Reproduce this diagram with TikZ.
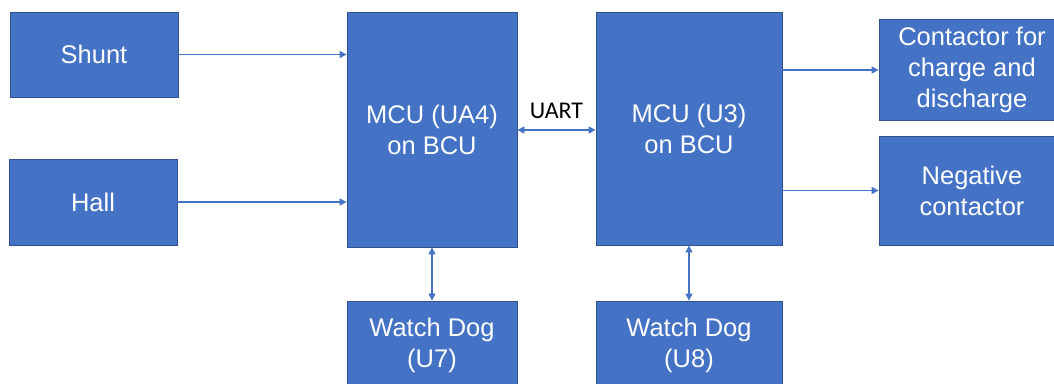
\documentclass[tikz,border=0pt]{standalone}
\usepackage{fontspec}
\setmainfont{Liberation Sans}
\newfontfamily\labelfont{Carlito}
\usetikzlibrary{arrows.meta}
\definecolor{boxblue}{HTML}{4472C4}
\definecolor{boxedge}{HTML}{2F528F}
\begin{document}
\begin{tikzpicture}[x=1pt,y=-1pt,
  block/.style={rectangle, fill=boxblue, draw=boxedge, line width=0.8pt,
    inner sep=0pt, text=white, align=center,
    font=\fontsize{25.5}{31}\selectfont},
  link/.style={draw=boxblue, line width=1.1pt,
    -{Triangle[length=7pt,width=7pt]}},
  duplex/.style={draw=boxblue, line width=1.1pt,
    {Triangle[length=7pt,width=7pt]}-{Triangle[length=7pt,width=7pt]}}]
  \useasboundingbox (0,0) rectangle (1054,383);

  % input sensors
  \node[block, minimum width=168pt, minimum height=85pt] (shunt) at (94,54.5) {Shunt};
  \node[block, minimum width=168pt, minimum height=86pt] (hall) at (93,202) {Hall};

  % the two controllers
  \node[block, minimum width=170pt, minimum height=235pt] (ua4) at (432,129.5) {MCU (UA4)\\on BCU};
  \node[block, minimum width=186pt, minimum height=233pt] (u3) at (689,128.5) {MCU (U3)\\on BCU};

  % contactors driven by U3
  \node[block, minimum width=186pt, minimum height=101pt] (chg) at (972,69.5) {Contactor for\\charge and\\discharge};
  \node[block, minimum width=186pt, minimum height=109pt] (neg) at (972,190.5) {Negative\\contactor};

  % watchdogs
  \node[block, minimum width=170pt, minimum height=89pt] (wd7) at (432,345.5) {Watch Dog\\(U7)};
  \node[block, minimum width=186pt, minimum height=89pt] (wd8) at (689,345.5) {Watch Dog\\(U8)};

  % connections
  \draw[link] (shunt.east) -- (shunt.east -| ua4.west);
  \draw[link] (hall.east) -- (hall.east -| ua4.west);
  \draw[duplex] ([yshift=-0.5pt]ua4.east) -- ([yshift=-1.5pt]u3.west)
    node[midway, above=7pt, text=black, font=\labelfont\fontsize{24}{28}\selectfont] (uart) {UART};
  \draw[link] ([yshift=-0.5pt]u3.east |- chg.west) -- ([yshift=-0.5pt]chg.west);
  \draw[link] (u3.east |- neg.west) -- (neg.west);
  \draw[duplex] (ua4.south) -- (wd7.north);
  \draw[duplex] (u3.south) -- (wd8.north);
\end{tikzpicture}
\end{document}
